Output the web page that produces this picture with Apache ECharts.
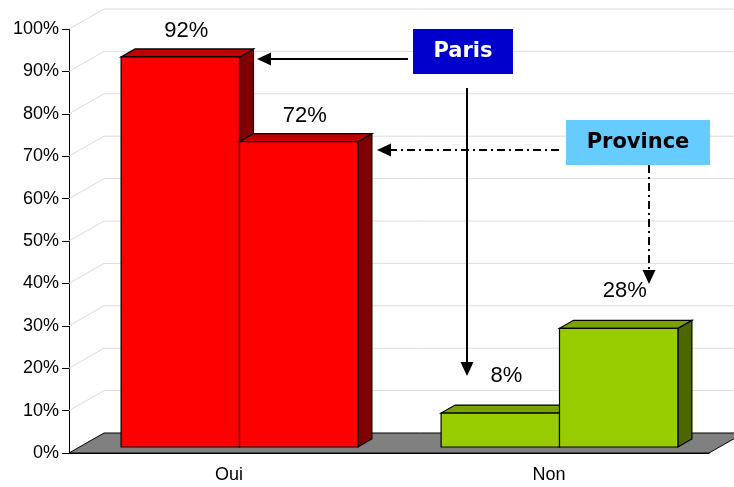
<!DOCTYPE html>
<html>
<head>
<meta charset="utf-8">
<script src="https://cdn.jsdelivr.net/npm/echarts@6/dist/echarts.min.js"></script>
<style>
html,body{margin:0;padding:0;background:#fff;}
#chart{width:734px;height:487px;}
</style>
</head>
<body>
<div id="chart"></div>
<script>
// ---- data ----
var categories = ['Oui', 'Non'];
var parisValues = [92, 8];
var provinceValues = [72, 28];
var yTicks = [0, 10, 20, 30, 40, 50, 60, 70, 80, 90, 100];

// ---- style constants ----
var FONT = "'Liberation Sans', Arial, sans-serif";
var BOX_FONT = "bold 21px 'DejaVu Sans', Verdana, sans-serif";
var WALL = { dx: 35, dy: -20 };     // depth of the 3D box
var FRONT = { dx: 10.5, dy: -6 };   // bar front plane offset
var BAR_DEPTH = { dx: 14, dy: -8 };
var LABEL_LIFT = [26, 37];
var frontCols = ['#FF0000', '#99CC00'];
var topCols = ['#C00000', '#7AA300'];
var sideCols = ['#800000', '#4D6600'];

var chart = echarts.init(document.getElementById('chart'));

function gridSeries() {
  return {
    type: 'custom',
    z: 1,
    silent: true,
    data: yTicks.filter(function (v) { return v > 0; }).map(function (v) { return [0, v]; }),
    renderItem: function (params, api) {
      var cs = params.coordSys;
      var y = api.coord([0, api.value(1)])[1];
      var x0 = cs.x;
      return {
        type: 'polyline',
        shape: { points: [[x0, y], [x0 + WALL.dx, y + WALL.dy], [api.getWidth() + 20, y + WALL.dy]] },
        style: { stroke: '#dcdcdc', lineWidth: 1, fill: null }
      };
    }
  };
}

function floorSeries() {
  return {
    type: 'custom',
    z: 2,
    silent: true,
    data: [[0, 0]],
    renderItem: function (params, api) {
      var cs = params.coordSys;
      var y0 = api.coord([0, 0])[1];
      var x0 = cs.x, x1 = cs.x + cs.width;
      return {
        type: 'polygon',
        shape: { points: [[x0, y0], [x1, y0], [x1 + WALL.dx, y0 + WALL.dy], [x0 + WALL.dx, y0 + WALL.dy]] },
        style: { fill: '#808080', stroke: '#000', lineWidth: 1 }
      };
    }
  };
}

function barSeries(name, values, side) {
  return {
    name: name,
    type: 'custom',
    z: 3,
    data: values.map(function (v, i) { return [i, v]; }),
    renderItem: function (params, api) {
      var idx = api.value(0), v = api.value(1);
      var base = api.coord([idx, 0]);
      var topPt = api.coord([idx, v]);
      var band = api.size([1, 0])[0];
      var bw = band * 0.37;
      var xl = base[0] + FRONT.dx + (side === 0 ? -bw : 0);
      var yb = base[1] + FRONT.dy;
      var yt = topPt[1] + FRONT.dy;
      var st = { stroke: '#000', lineWidth: 1.2 };
      return {
        type: 'group',
        children: [
          { type: 'polygon', shape: { points: [[xl + bw, yt], [xl + bw + BAR_DEPTH.dx, yt + BAR_DEPTH.dy], [xl + bw + BAR_DEPTH.dx, yb + BAR_DEPTH.dy], [xl + bw, yb]] },
            style: Object.assign({ fill: sideCols[idx] }, st) },
          { type: 'polygon', shape: { points: [[xl, yt], [xl + bw, yt], [xl + bw + BAR_DEPTH.dx, yt + BAR_DEPTH.dy], [xl + BAR_DEPTH.dx, yt + BAR_DEPTH.dy]] },
            style: Object.assign({ fill: topCols[idx] }, st) },
          { type: 'rect', shape: { x: xl, y: yt, width: bw, height: yb - yt },
            style: Object.assign({ fill: frontCols[idx] }, st) },
          { type: 'text', x: xl + bw / 2 + 6, y: yt - LABEL_LIFT[idx],
            style: { text: v + '%', font: '22px ' + FONT, fill: '#000', align: 'center', verticalAlign: 'middle' } }
        ]
      };
    }
  };
}

function arrowHead(tx, ty, dir) {
  var L = 14, H = 6.5, pts;
  if (dir === 'left') pts = [[tx, ty], [tx + L, ty - H], [tx + L, ty + H]];
  else pts = [[tx, ty], [tx - H, ty - L], [tx + H, ty - L]];
  return { type: 'polygon', shape: { points: pts }, style: { fill: '#000' }, z: 100 };
}
function line(x1, y1, x2, y2, dash) {
  return { type: 'line', shape: { x1: x1, y1: y1, x2: x2, y2: y2 },
    style: { stroke: '#000', lineWidth: 2, lineDash: dash ? [8, 4, 2, 4] : null }, z: 100 };
}

chart.setOption({
  backgroundColor: '#fff',
  animation: false,
  grid: { left: 69, top: 29, width: 640, height: 424 },
  xAxis: {
    type: 'category',
    data: categories,
    axisLine: { lineStyle: { color: '#000', width: 1 } },
    axisTick: { length: 6, lineStyle: { color: '#000' } },
    axisLabel: { margin: 13, fontSize: 18, fontFamily: FONT, color: '#000' },
    splitLine: { show: false }
  },
  yAxis: {
    type: 'value',
    min: 0, max: 100, interval: 10,
    axisLine: { show: true, lineStyle: { color: '#000', width: 1 } },
    axisTick: { show: true, length: 7, lineStyle: { color: '#000' } },
    axisLabel: { formatter: '{value}%', margin: 10, fontSize: 18, fontFamily: FONT, color: '#000', padding: [5, 0, 0, 0] },
    splitLine: { show: false }
  },
  series: [
    gridSeries(),
    floorSeries(),
    barSeries('Paris', parisValues, 0),
    barSeries('Province', provinceValues, 1)
  ],
  graphic: [
    { type: 'rect', shape: { x: 413, y: 29, width: 100, height: 45 }, style: { fill: '#0000CC' }, z: 100 },
    { type: 'text', x: 463, y: 52, style: { text: 'Paris', font: BOX_FONT, fill: '#fff', align: 'center', verticalAlign: 'middle' }, z: 101 },
    { type: 'rect', shape: { x: 566, y: 120, width: 144, height: 45 }, style: { fill: '#66CCFF' }, z: 100 },
    { type: 'text', x: 638, y: 143, style: { text: 'Province', font: BOX_FONT, fill: '#000', align: 'center', verticalAlign: 'middle' }, z: 101 },
    line(408, 59, 270, 59, false), arrowHead(257, 59, 'left'),
    line(467, 88, 467, 363, false), arrowHead(467, 376, 'down'),
    line(559, 150, 390, 150, true), arrowHead(377, 150, 'left'),
    line(649, 165, 649, 271, true), arrowHead(649, 284, 'down')
  ]
});
</script>
</body>
</html>
